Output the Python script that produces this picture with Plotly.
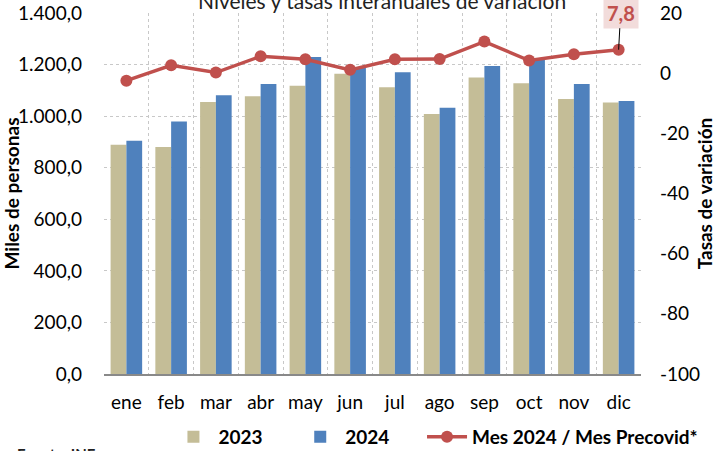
import plotly.graph_objects as go

meses = ["ene", "feb", "mar", "abr", "may", "jun", "jul", "ago", "sep", "oct", "nov", "dic"]
v2023 = [889, 880, 1055, 1077, 1118, 1164, 1112, 1008, 1150, 1128, 1066, 1053]
v2024 = [905, 979, 1081, 1125, 1229, 1190, 1170, 1033, 1194, 1225, 1125, 1059]
tasa = [-2.5, 2.6, 0.2, 5.6, 4.6, 1.1, 4.6, 4.7, 10.5, 4.2, 6.3, 7.8]
left_ticks = [0, 200, 400, 600, 800, 1000, 1200, 1400]
left_tick_labels = ["0,0", "200,0", "400,0", "600,0", "800,0", "1.000,0", "1.200,0", "1.400,0"]
right_ticks = [-100, -80, -60, -40, -20, 0, 20]
right_tick_labels = ["-100", "-80", "-60", "-40", "-20", "0", "20"]

FONT = "Lato"
grid_col = "#c8c8c8"
PAD = "\u00a0" * 6

fig = go.Figure()
fig.add_trace(go.Bar(x=meses, y=v2023, name="2023" + PAD, marker=dict(color="#c4bd97", line=dict(width=0))))
fig.add_trace(go.Bar(x=meses, y=v2024, name="2024" + PAD, marker=dict(color="#4f81bd", line=dict(width=0))))
fig.add_trace(go.Scatter(x=meses, y=tasa, name="Mes 2024 / Mes Precovid*", yaxis="y2",
                         mode="lines+markers",
                         line=dict(color="#c0504d", width=3.5),
                         marker=dict(color="#c0504d", size=12)))

fig.add_annotation(x=meses[-1], y=tasa[-1], xref="x", yref="y2",
                   text="<b>" + f"{tasa[-1]:.1f}".replace(".", ",") + "</b>",
                   showarrow=True, arrowhead=0, arrowwidth=1, arrowcolor="black",
                   ax=2, ay=-37, bgcolor="#f2dcdb", borderpad=3,
                   font=dict(family=FONT, size=20, color="#c0504d"))

fig.add_annotation(text="Niveles y tasas interanuales de variación", xref="paper", yref="paper",
                   x=0.518, y=1.036, xanchor="center", yanchor="middle", showarrow=False,
                   font=dict(family=FONT, size=21, color="#222222"))

fig.add_annotation(text="<b>Fuente: INE</b>", xref="paper", yref="paper",
                   x=-0.165, y=-0.222, xanchor="left", yanchor="middle", showarrow=False,
                   font=dict(family=FONT, size=15, color="#222222"))

fig.update_layout(
    width=716, height=451,
    margin=dict(l=104, r=75, t=13, b=77, autoexpand=False),
    paper_bgcolor="white", plot_bgcolor="white",
    barmode="group", bargap=0.295, bargroupgap=0,
    font=dict(family=FONT, size=19, color="black"),
    showlegend=True,
    legend=dict(orientation="h", x=0.12, y=-0.1745, xanchor="left", yanchor="middle",
                font=dict(family=FONT, size=19, color="black", weight="bold"),
                itemwidth=40, traceorder="normal", bgcolor="rgba(0,0,0,0)"),
    xaxis=dict(type="category", range=[-0.5, len(meses) - 0.5], tickson="boundaries",
               showgrid=True, gridcolor=grid_col,
               griddash="dot", gridwidth=1, showline=True, linecolor="#898989", linewidth=1.5,
               ticks="", tickfont=dict(family=FONT, size=19), ticklabelstandoff=10,
               tickangle=0, automargin=False),
    yaxis=dict(range=[0, 1400], tickvals=left_ticks, ticktext=left_tick_labels,
               showgrid=True, gridcolor=grid_col, griddash="dot", gridwidth=1,
               zeroline=False, showline=False, ticks="", ticklabelstandoff=21,
               tickfont=dict(family=FONT, size=19), automargin=False,
               title=dict(text="<b>Miles de personas</b>", font=dict(family=FONT, size=19), standoff=0)),
    yaxis2=dict(range=[-100, 20], tickvals=right_ticks, ticktext=right_tick_labels,
                overlaying="y", side="right",
                showgrid=False, zeroline=False, showline=False, ticks="", ticklabelstandoff=18,
                tickfont=dict(family=FONT, size=19), automargin=False,
                title=dict(text="<b>Tasas de variación</b>", font=dict(family=FONT, size=19), standoff=2)),
)

fig.write_html("out.html", config={"displayModeBar": False},
               post_script="document.body.style.margin='0px';")
